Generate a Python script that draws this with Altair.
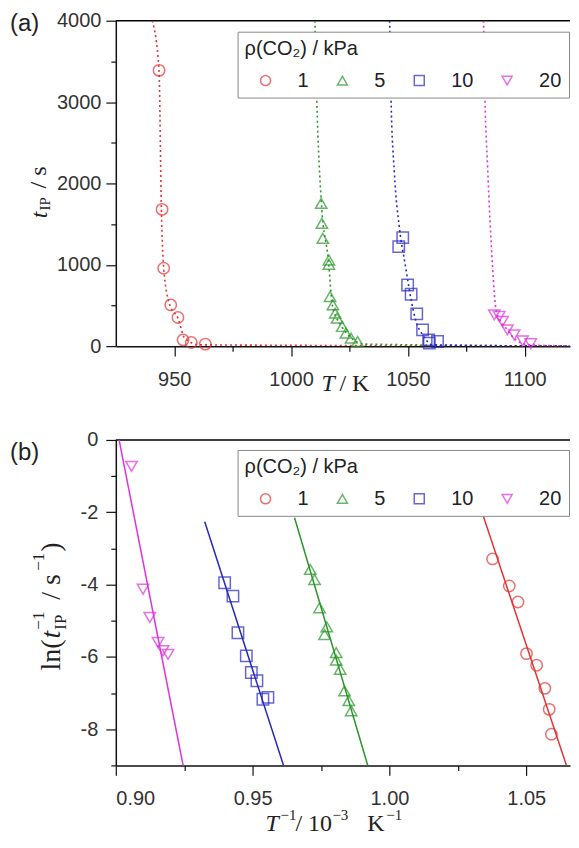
import altair as alt
import pandas as pd

# ---------------- data ----------------
series = ["1", "5", "10", "20"]
colors = ["#e23535", "#2a962a", "#2828c0", "#dd33dd"]
shapes = ["circle", "triangle-up", "square", "triangle-down"]

# panel (a): induction period t_IP (s) vs T (K)
a_T_1 = [943.5, 944.8, 945.5, 948.5, 951.6, 953.8, 957.3, 963.3]
a_t_1 = [3390, 1681, 957, 507, 352, 77, 45, 25]
a_T_5 = [1012.9, 1013.2, 1013.6, 1016.2, 1016.2, 1016.7, 1017.9, 1018.9, 1019.7, 1021.9, 1023.5, 1025.7, 1028.5]
a_t_5 = [1755, 1509, 1325, 1059, 1006, 610, 507, 405, 344, 242, 160, 98, 57]
a_T_10 = [1046.1, 1047.8, 1049.9, 1051.4, 1053.8, 1056.3, 1058.9, 1059.2, 1062.7]
a_t_10 = [1223, 1334, 752, 638, 396, 200, 77, 37, 57]
a_T_20 = [1087.0, 1089.1, 1090.5, 1092.6, 1095.5, 1099.1, 1102.6]
a_t_20 = [384, 364, 303, 200, 139, 65, 30]

# panel (a): dotted fit curves
c_T_1 = [940.6, 943.5, 944.5, 945.5, 948.1, 951.6, 954.5, 960.9, 1125]
c_t_1 = [4000, 3390, 1681, 957, 507, 344, 98, 16, 0]
c_T_5 = [1010.2, 1011.0, 1013.0, 1016.0, 1017.7, 1021.6, 1025.9, 1031.4, 1125]
c_t_5 = [4000, 3043, 1755, 1055, 503, 245, 98, 25, 0]
c_T_10 = [1042.2, 1042.8, 1044.2, 1046.4, 1048.9, 1051.4, 1053.5, 1056.3, 1060.6, 1125]
c_t_10 = [4000, 3043, 2143, 1448, 998, 568, 303, 139, 16, 0]
c_T_20 = [1082.4, 1083.0, 1084.1, 1086.2, 1087.9, 1092.0, 1096.2, 1101.9, 1125]
c_t_20 = [4000, 3043, 2225, 998, 426, 221, 77, 16, 0]

# panel (b): ln(1/t_IP) vs 1/T (10^-3 K^-1)
b_x_1 = [1.0377, 1.0438, 1.0470, 1.0501, 1.0538, 1.0568, 1.0584, 1.0592]
b_y_1 = [-3.29, -4.04, -4.48, -5.91, -6.23, -6.87, -7.45, -8.14]
b_x_5 = [0.97106, 0.97263, 0.97445, 0.97628, 0.97712, 0.98055, 0.98055, 0.98201, 0.98358, 0.98515, 0.98602]
b_y_5 = [-3.58, -3.86, -4.64, -5.38, -5.17, -5.88, -6.09, -6.34, -6.94, -7.21, -7.49]
b_x_10 = [0.93978, 0.94281, 0.94464, 0.94770, 0.94953, 0.95157, 0.95376, 0.95559]
b_y_10 = [-3.95, -4.32, -5.33, -5.97, -6.43, -6.66, -7.17, -7.12]
b_x_20 = [0.90573, 0.90996, 0.91241, 0.91544, 0.91726, 0.91909]
b_y_20 = [-0.73, -4.13, -4.91, -5.60, -5.83, -5.93]

# panel (b): fitted straight lines (end points)
f_x_1 = [1.0343, 1.0647]
f_y_1 = [-2.10, -9.0]
f_x_5 = [0.96533, 0.99208]
f_y_5 = [-2.15, -9.0]
f_x_10 = [0.9325, 0.9613]
f_y_10 = [-2.26, -9.0]
f_x_20 = [0.9012, 0.9246]
f_y_20 = [0.0, -9.0]

a_x_ticks = [950, 975, 1000, 1025, 1050, 1075, 1100]
a_y_ticks = [0, 500, 1000, 1500, 2000, 2500, 3000, 3500, 4000]
b_x_ticks = [0.90, 0.925, 0.95, 0.975, 1.00, 1.025, 1.05]
b_y_ticks = [0, -1, -2, -3, -4, -5, -6, -7, -8, -9]


def build(xs_list, ys_list, xn, yn):
    rows = []
    for s, xs, ys in zip(series, xs_list, ys_list):
        for i, (xv, yv) in enumerate(zip(xs, ys)):
            rows.append({xn: xv, yn: yv, "p": s, "i": i})
    return pd.DataFrame(rows)


pa = build([a_T_1, a_T_5, a_T_10, a_T_20], [a_t_1, a_t_5, a_t_10, a_t_20], "T", "t")
ca = build([c_T_1, c_T_5, c_T_10, c_T_20], [c_t_1, c_t_5, c_t_10, c_t_20], "T", "t")
pb = build([b_x_1, b_x_5, b_x_10, b_x_20], [b_y_1, b_y_5, b_y_10, b_y_20], "x", "y")
fb = build([f_x_1, f_x_5, f_x_10, f_x_20], [f_y_1, f_y_5, f_y_10, f_y_20], "x", "y")

W, H = 455, 326
SERIF = "Liberation Serif"
SANS = "Liberation Sans"

color_scale = alt.Scale(domain=series, range=colors)
shape_scale = alt.Scale(domain=series, range=shapes)


def legend(y0):
    return alt.Legend(title="ρ(CO₂) / kPa", orient="none", legendX=122, legendY=y0,
                      direction="horizontal", columns=4)


one = pd.DataFrame({"k": [0]})


def txt(s, x, y, size=22, font=SERIF, style="normal", angle=0):
    kw = dict(font=font, fontSize=size, fontStyle=style, align="left",
              baseline="alphabetic", color="#222")
    if angle:
        kw["angle"] = angle
    return alt.Chart(one).mark_text(**kw).encode(
        x=alt.value(x), y=alt.value(y), text=alt.value(s))


def tick_axis(values, major_test, fmt=None, label_expr=None, pad=5):
    kw = dict(values=values, title=None, labelPadding=pad,
              tickSize=alt.condition(major_test, alt.value(10), alt.value(5)))
    if label_expr:
        kw["labelExpr"] = label_expr
    if fmt:
        kw["format"] = fmt
    return alt.Axis(**kw)


def series_lines(df, x, y, dash=None, width=1.5, interp="linear"):
    layers = []
    for s, c in zip(series, colors):
        kw = dict(color=c, strokeWidth=width, clip=True, interpolate=interp)
        if dash:
            kw["strokeDash"] = dash
        layers.append(alt.Chart(df).transform_filter(alt.datum.p == s)
                      .mark_line(**kw).encode(x=x, y=y, order="i:Q"))
    return layers


frame = alt.Chart(one).mark_rule(color="black", strokeWidth=1.5).encode(
    x=alt.value(0), x2=alt.value(W), y=alt.value(0))

# ---------------- panel (a) ----------------
xa = alt.X("T:Q", scale=alt.Scale(domain=[925, 1119.4], nice=False, zero=False),
           axis=tick_axis(a_x_ticks, "datum.value % 50 === 0", fmt="d",
                          label_expr="datum.value % 50 === 0 ? datum.label : ''", pad=13))
ya = alt.Y("t:Q", scale=alt.Scale(domain=[0, 4000], nice=False),
           axis=tick_axis(a_y_ticks, "datum.value % 1000 === 0", fmt="d",
                          label_expr="datum.value % 1000 === 0 ? datum.label : ''", pad=5))

points_a = alt.Chart(pa).mark_point(filled=False, size=130, strokeWidth=1.5).encode(
    x=xa, y=ya,
    color=alt.Color("p:N", scale=color_scale, legend=legend(11)),
    shape=alt.Shape("p:N", scale=shape_scale, legend=legend(11)))

panel_a = alt.layer(
    frame, *series_lines(ca, xa, ya, dash=[2, 3], width=1.6, interp="monotone"), points_a,
    txt("(a)", -106, 10, size=24, font=SANS),
    txt("t", -69, 198, size=24, style="italic", angle=270),
    txt("IP", -66, 190, size=15, angle=270),
    txt("/ s", -70, 168, size=24, angle=270),
    txt("T", 206, 371, size=24, style="italic"),
    txt("/ K", 224, 371, size=24),
).properties(width=W, height=H)

# ---------------- panel (b) ----------------
xb = alt.X("x:Q", scale=alt.Scale(domain=[0.90, 1.066], nice=False, zero=False),
           axis=tick_axis(b_x_ticks, "abs(datum.value*20 - round(datum.value*20)) < 0.000001",
                          fmt=".2f",
                          label_expr="abs(datum.value*20 - round(datum.value*20)) < 0.000001 ? datum.label : ''",
                          pad=13))
yb = alt.Y("y:Q", scale=alt.Scale(domain=[-9, 0], nice=False),
           axis=tick_axis(b_y_ticks, "datum.value % 2 === 0",
                          label_expr="datum.value % 2 === 0 ? '' + datum.value : ''", pad=8))

points_b = alt.Chart(pb).mark_point(filled=False, size=130, strokeWidth=1.5).encode(
    x=xb, y=yb,
    color=alt.Color("p:N", scale=color_scale, legend=legend(10)),
    shape=alt.Shape("p:N", scale=shape_scale, legend=legend(10)))

panel_b = alt.layer(
    frame, *series_lines(fb, xb, yb), points_b,
    txt("(b)", -106, 20, size=24, font=SANS),
    txt("ln(", -56, 231, size=28, angle=270),
    txt("t", -56, 199, size=28, style="italic", angle=270),
    txt("IP", -50, 190, size=17, angle=270),
    txt("−1", -72, 190, size=17, angle=270),
    txt("/ s", -56, 160, size=28, angle=270),
    txt("−1", -72, 131, size=17, angle=270),
    txt(")", -56, 112, size=28, angle=270),
    txt("T", 150, 392, size=24, style="italic"),
    txt("−1", 165, 381, size=15),
    txt("/ 10", 180, 392, size=24),
    txt("−3", 217, 381, size=15),
    txt("K", 252, 392, size=24),
    txt("−1", 271, 381, size=15),
).properties(width=W, height=H)

chart = alt.vconcat(panel_a, panel_b, spacing=94, bounds="flush").resolve_scale(
    color="independent", shape="independent"
).properties(
    padding={"left": 2, "top": 2, "right": 0, "bottom": 0}
).configure_view(stroke=None).configure_axis(
    domainColor="#111", domainWidth=1.5, tickColor="#111", tickWidth=1.2,
    labelFont=SANS, labelFontSize=20, labelColor="#333", grid=False
).configure_legend(
    titleFont=SANS, titleFontSize=20, titleFontWeight="normal", titleColor="#222",
    labelFont=SANS, labelFontSize=20, labelColor="#222",
    symbolSize=100, symbolStrokeWidth=1.5, padding=7, titlePadding=12,
    columnPadding=12, labelOffset=22, symbolOffset=11,
    strokeColor="#888", fillColor="white", cornerRadius=0
)

chart.save("out.html", embed_options={"renderer": "svg", "actions": False})
